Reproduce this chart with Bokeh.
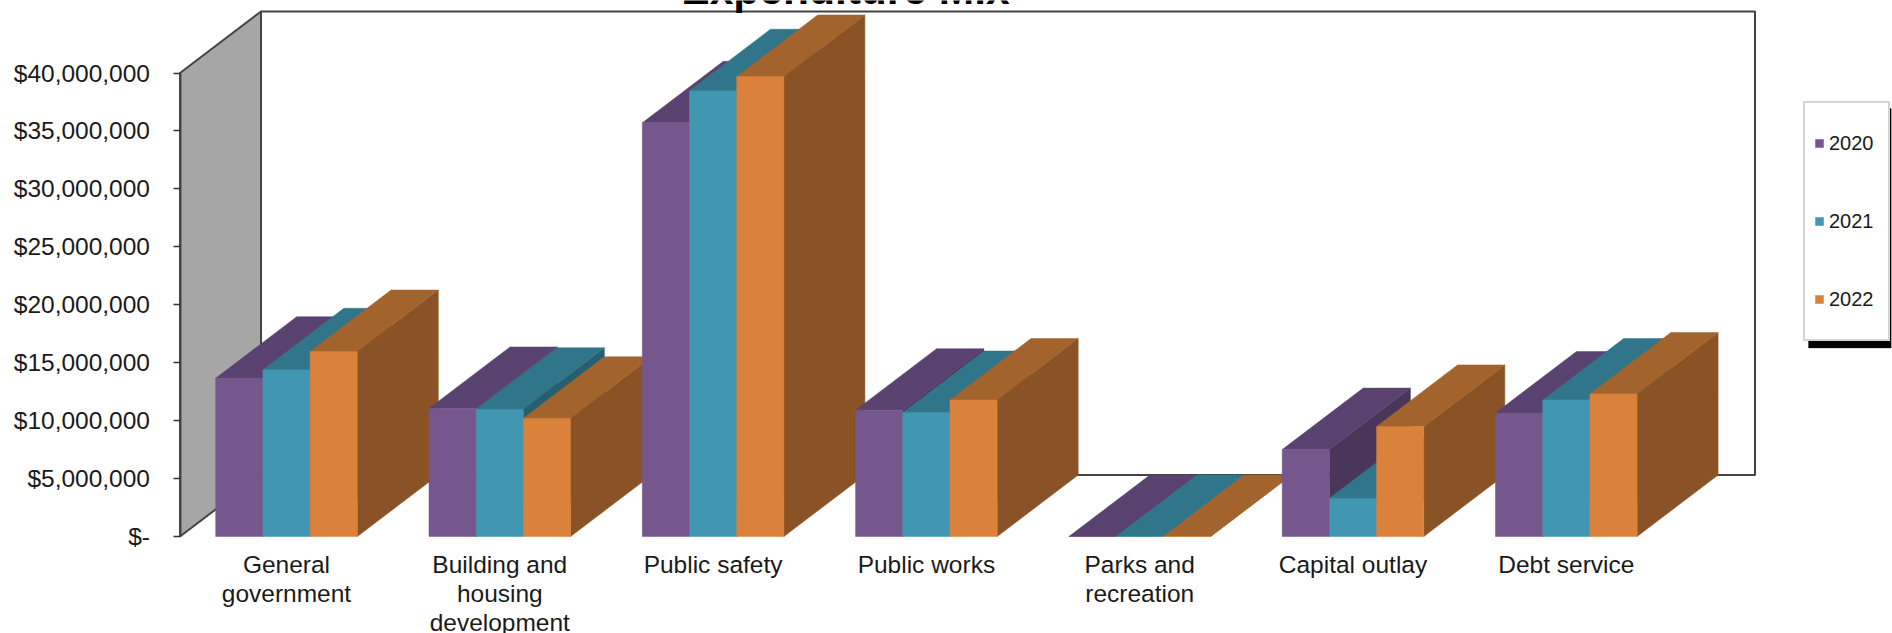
from bokeh.embed import file_html
from bokeh.resources import INLINE
from bokeh.plotting import figure
from bokeh.models import (Range1d, LinearAxis, FixedTicker, Legend, LegendItem, Label,
                          BoxAnnotation, ColumnDataSource)

categories = ["General\ngovernment", "Building and\nhousing\ndevelopment", "Public safety",
              "Public works", "Parks and\nrecreation", "Capital outlay", "Debt service"]
series_names = ["2020", "2021", "2022"]
v2020 = [13.66e6, 11.05e6, 35.7e6, 10.9e6, 0, 7.5e6, 10.66e6]
v2021 = [14.39e6, 10.98e6, 38.47e6, 10.7e6, 0, 3.3e6, 11.78e6]
v2022 = [15.96e6, 10.2e6, 39.7e6, 11.78e6, 0, 9.5e6, 12.3e6]
series = [v2020, v2021, v2022]
y_ticks = [0, 5e6, 10e6, 15e6, 20e6, 25e6, 30e6, 35e6, 40e6]
y_tick_labels = ["$-", "$5,000,000", "$10,000,000", "$15,000,000", "$20,000,000",
                 "$25,000,000", "$30,000,000", "$35,000,000", "$40,000,000"]
front_colors = ["#75578D", "#4197B1", "#DA813B"]
top_colors = ["#5A4270", "#30758A", "#A3632D"]
side_colors = ["#4A3659", "#275F70", "#8A5326"]

W, H = 1892, 633
X0, GROUP = 286.0, 213.3       # pixel of first category centre, pixels per category
Y0, PER_UNIT = 536.0, 463.5 / 40e6
x_range = Range1d((0 - X0) / GROUP, (W - X0) / GROUP)
y_range = Range1d((Y0 - H) / PER_UNIT, Y0 / PER_UNIT)
DX, DY = 81.0 / GROUP, 61.5 / PER_UNIT   # depth of the 3-D box in data units
BAR = 47.2 / GROUP
AXIS_X = (179.5 - X0) / GROUP
WALL_R = (1754.5 - X0) / GROUP

p = figure(width=W, height=H, x_range=x_range, y_range=y_range, output_backend="svg",
           toolbar_location=None, x_axis_type=None, y_axis_type=None,
           min_border=0, min_border_left=0, min_border_right=0, min_border_top=0, min_border_bottom=0,
           background_fill_color="white", border_fill_color="white",
           margin=(0, 0, 0, 0))
p.grid.visible = False
p.outline_line_color = None

# back wall and left wall
p.patch([AXIS_X + DX, WALL_R, WALL_R, AXIS_X + DX], [DY, DY, 40e6 + DY, 40e6 + DY],
        fill_color="white", line_color="#444444", line_width=2)
p.patch([AXIS_X, AXIS_X + DX, AXIS_X + DX, AXIS_X], [0, DY, 40e6 + DY, 40e6],
        fill_color="#A6A6A6", line_color="#444444", line_width=2)

xs, ys, cols = [], [], []
front_index = {}
for g in range(len(categories)):
    for s, vals in enumerate(series):
        l = g + (s - 1.5) * BAR
        r = l + BAR
        v = vals[g]
        # right side, top, front
        xs.append([r, r + DX, r + DX, r]); ys.append([0, DY, v + DY, v]); cols.append(side_colors[s])
        xs.append([l, r, r + DX, l + DX]); ys.append([v, v, v + DY, v + DY]); cols.append(top_colors[s])
        if g == 0:
            front_index[s] = len(xs)
        xs.append([l, r, r, l]); ys.append([0, 0, v, v]); cols.append(front_colors[s])
bars = p.patches("xs", "ys", fill_color="cols", line_color="cols", line_width=0.5,
                 source=ColumnDataSource(dict(xs=xs, ys=ys, cols=cols)))

FONT = "Liberation Sans"
yaxis = LinearAxis(fixed_location=AXIS_X, ticker=FixedTicker(ticks=y_ticks),
                   major_label_overrides={t: l for t, l in zip(y_ticks, y_tick_labels)},
                   bounds=(0, 40e6), major_tick_out=7, major_tick_in=0, minor_tick_out=0, minor_tick_in=0,
                   major_label_standoff=23, axis_line_color="#444444", axis_line_width=2,
                   major_tick_line_color="#333333", major_tick_line_width=1.5,
                   major_label_text_font=FONT, major_label_text_font_size="24.5px",
                   major_label_text_color="#1a1a1a")
p.add_layout(yaxis, "left")
xaxis = LinearAxis(fixed_location=0, ticker=FixedTicker(ticks=list(range(len(categories)))),
                   major_label_overrides={i: c for i, c in enumerate(categories)},
                   axis_line_color=None, major_tick_line_color=None, minor_tick_line_color=None,
                   major_label_standoff=8, major_label_text_font=FONT,
                   major_label_text_line_height=1.08,
                   major_label_text_font_size="24.5px", major_label_text_color="#1a1a1a")
p.add_layout(xaxis, "below")

p.add_layout(Label(x=845, y=H + 11.5, x_units="screen", y_units="screen", text="Expenditure Mix",
                   text_font=FONT, text_font_style="bold", text_font_size="42.5px",
                   text_align="center", text_baseline="alphabetic", text_color="black"))

# legend with its hard shadow
p.add_layout(BoxAnnotation(left=1808, right=1890.7, top=H - 108, bottom=H - 347.5,
                           left_units="screen", right_units="screen", top_units="screen", bottom_units="screen",
                           fill_color="black", fill_alpha=1, line_color="black"))
legend = Legend(items=[LegendItem(label=n, renderers=[bars], index=front_index[i])
                       for i, n in enumerate(series_names)],
                location=(1803, H - 341), orientation="vertical", margin=0, padding=9,
                spacing=16, glyph_width=10, glyph_height=10, label_standoff=5, label_height=62,
                label_width=50,
                label_text_font=FONT, label_text_font_size="20px", label_text_color="#1a1a1a",
                border_line_color="#AAAAAA", border_line_width=2, background_fill_color="white",
                background_fill_alpha=1)
p.add_layout(legend)

open("out.html", "w").write(file_html(p, INLINE))
